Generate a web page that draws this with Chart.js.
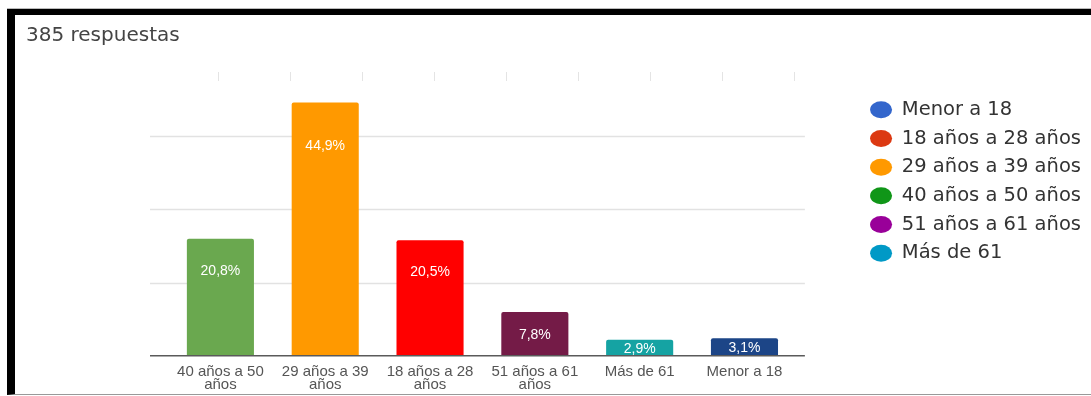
<!DOCTYPE html>
<html>
<head>
<meta charset="utf-8">
<script src="https://cdn.jsdelivr.net/npm/chart.js@4.4.0/dist/chart.umd.min.js"></script>
<style>
  body { margin: 0; background: #fff; }
  #marco {
    position: absolute; left: 7px; top: 9px;
    width: 1076px; height: 379px;
    border-top: 6px solid #000; border-left: 8px solid #000; border-bottom: 1px solid #999;
    box-shadow: 0 -1px 0 #bbb;
  }
  canvas { display: block; }
</style>
</head>
<body>
<div id="marco"><canvas id="edades" width="1076" height="379"></canvas></div>
<script>
const totalRespuestas = 385;
const categorias = [
    ["40 años a 50", "años"],
    ["29 años a 39", "años"],
    ["18 años a 28", "años"],
    ["51 años a 61", "años"],
    "Más de 61",
    "Menor a 18"
];
const respuestas = [80, 173, 79, 30, 11, 12];
const coloresBarras = ["#6aa84f", "#ff9900", "#ff0000", "#741b47", "#15a3a3", "#1c4587"];

const leyenda = ["Menor a 18", "18 años a 28 años", "29 años a 39 años", "40 años a 50 años", "51 años a 61 años", "Más de 61"];
const coloresLeyenda = ["#3366cc", "#dc3912", "#ff9900", "#109618", "#990099", "#0099c6"];

const lineasGuia = [0, 50, 100, 150];

function porcentaje(v) {
    return (v * 100 / totalRespuestas).toFixed(1).replace(".", ",") + "%";
}

// lineas horizontales un poco mas anchas que el area del grafico
const guias = {
    id: "guias",
    beforeDatasetsDraw(chart) {
        const ctx = chart.ctx;
        const area = chart.chartArea;
        const y = chart.scales.y;
        ctx.save();
        ctx.strokeStyle = "#e2e2e2";
        ctx.lineWidth = 1.5;
        lineasGuia.forEach(v => {
            if (v === 0) return;
            const py = Math.round(y.getPixelForValue(v)) + 0.5;
            ctx.beginPath();
            ctx.moveTo(area.left - 18, py);
            ctx.lineTo(area.right + 8, py);
            ctx.stroke();
        });
        // marquitas de arriba
        ctx.strokeStyle = "#e4e4e4";
        ctx.lineWidth = 1;
        for (let i = 0; i < 9; i++) {
            const px = area.left + 50 + i * 72 + 0.5;
            ctx.beginPath();
            ctx.moveTo(px, 57);
            ctx.lineTo(px, 66);
            ctx.stroke();
        }
        ctx.restore();
    },
    afterDatasetsDraw(chart) {
        const ctx = chart.ctx;
        const area = chart.chartArea;
        const py = chart.scales.y.getPixelForValue(0);
        ctx.save();
        ctx.strokeStyle = "#5a5a5a";
        ctx.lineWidth = 1.5;
        ctx.beginPath();
        ctx.moveTo(area.left - 18, py);
        ctx.lineTo(area.right + 8, py);
        ctx.stroke();

        // porcentajes dentro de las barras
        ctx.fillStyle = "#ffffff";
        ctx.font = "14px 'Liberation Sans', Arial, sans-serif";
        ctx.textAlign = "center";
        ctx.textBaseline = "middle";
        chart.getDatasetMeta(0).data.forEach((bar, i) => {
            const h = bar.base - bar.y;
            const ly = bar.y + Math.min(h / 2 + 1, 23 + 0.08 * h);
            ctx.fillText(porcentaje(respuestas[i]), bar.x, ly);
        });
        ctx.restore();
    }
};

const chart = new Chart(document.getElementById("edades"), {
    type: "bar",
    data: {
        labels: categorias,
        datasets: [{
            data: respuestas,
            backgroundColor: coloresBarras,
            borderRadius: 2,
            borderSkipped: "bottom",
            barPercentage: 0.64,
            categoryPercentage: 1
        }]
    },
    options: {
        responsive: false,
        devicePixelRatio: 1,
        animation: false,
        layout: { padding: { left: 11, right: 0, top: 0, bottom: -7 } },
        plugins: {
            title: {
                display: true,
                text: totalRespuestas + " respuestas",
                align: "start",
                color: "#444",
                font: { family: "'DejaVu Sans', sans-serif", size: 20, weight: "normal", lineHeight: 1.2 },
                padding: { top: 9, bottom: 42.8 }
            },
            legend: {
                position: "right",
                align: "start",
                fullSize: false,
                onClick: null,
                labels: {
                    usePointStyle: true,
                    pointStyleWidth: 22,
                    boxHeight: 12,
                    padding: 9.2,
                    color: "#333",
                    font: { family: "'DejaVu Sans', sans-serif", size: 19.5 },
                    generateLabels: () => leyenda.map((t, i) => ({
                        text: t,
                        fillStyle: coloresLeyenda[i],
                        strokeStyle: coloresLeyenda[i],
                        lineWidth: 0,
                        pointStyle: "circle",
                        fontColor: "#333",
                        hidden: false,
                        index: i
                    }))
                }
            },
            tooltip: { enabled: false }
        },
        scales: {
            x: {
                grid: { display: false, drawTicks: false },
                border: { display: false },
                ticks: {
                    autoSkip: false,
                    maxRotation: 0,
                    padding: 10,
                    color: "#555",
                    font: { family: "'Liberation Sans', Arial, sans-serif", size: 15, lineHeight: 0.84 }
                }
            },
            y: {
                display: false,
                min: 0,
                max: 181,
                afterFit(scale) { scale.width = 142; }
            },
            derecha: {
                display: false,
                position: "right",
                afterFit(scale) { scale.width = 64; }
            }
        }
    },
    plugins: [guias]
});
</script>
</body>
</html>
